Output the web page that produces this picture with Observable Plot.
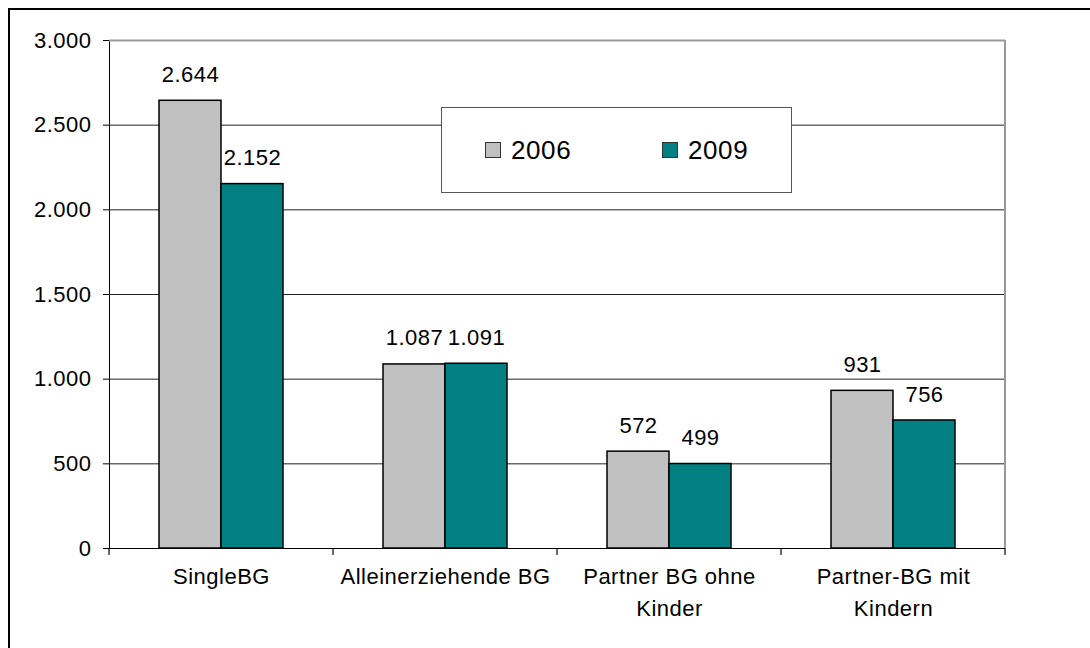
<!DOCTYPE html>
<html>
<head>
<meta charset="utf-8">
<script src="https://cdn.jsdelivr.net/npm/d3@7"></script>
<script src="https://cdn.jsdelivr.net/npm/@observablehq/plot@0.6"></script>
<style>
  html, body { margin: 0; padding: 0; background: #fff; }
  #wrap { position: relative; width: 1090px; height: 648px; overflow: hidden; font-family: "Liberation Sans", Arial, sans-serif; }
  #wrap svg { position: absolute; left: 0; top: 0; }
  #frame { position: absolute; left: 8px; top: 8px; width: 1200px; height: 800px; border-top: 2.5px solid #000; border-left: 2.5px solid #000; pointer-events: none; }
  #legend { position: absolute; left: 441px; top: 107px; width: 351px; height: 86px; box-sizing: border-box; border: 1px solid #555; background: #fff; }
  #legend .item { position: absolute; top: 0; height: 100%; display: flex; align-items: center; font-size: 26px; letter-spacing: 0.6px; color: #000; }
  #legend .sw { width: 14px; height: 14px; border: 1px solid #333; margin-right: 10px; }
</style>
</head>
<body>
<div id="wrap"></div>
<script>
// ---- data ----
const categories = ["SingleBG", "Alleinerziehende BG", "Partner BG ohne\nKinder", "Partner-BG mit\nKindern"];
const years = ["2006", "2009"];
const values2006 = [2644, 1087, 572, 931];
const values2009 = [2152, 1091, 499, 756];
const yTicks = [0, 500, 1000, 1500, 2000, 2500, 3000];
const yearColors = ["#C0C0C0", "#008080"];

// ---- build table ----
const rows = [];
categories.forEach((c, i) => {
  rows.push({cat: c, year: years[0], value: values2006[i]});
  rows.push({cat: c, year: years[1], value: values2009[i]});
});
const catRows = categories.map(c => {
  const parts = c.split("\n");
  return {cat: c, line1: parts[0], line2: parts[1] || ""};
});

const de = d3.formatLocale({decimal: ",", thousands: ".", grouping: [3], currency: ["", " €"]});
const fmt = de.format(",d");

const W = 1090, H = 648;
const chart = Plot.plot({
  width: W,
  height: H,
  marginLeft: 109,
  marginRight: 85,
  marginTop: 40,
  marginBottom: 100,
  style: {fontFamily: "'Liberation Sans', Arial, sans-serif", fontSize: "22px", letterSpacing: "0.5px", color: "#000", background: "transparent", overflow: "visible"},
  fx: {domain: categories, padding: 0, axis: null, label: null},
  x: {domain: years, paddingInner: 0, paddingOuter: 0.778, axis: null, label: null},
  y: {domain: [0, 3000], ticks: yTicks, tickFormat: fmt, tickSize: 6, tickPadding: 12, line: true, label: null},
  color: {domain: years, range: yearColors},
  marks: [
    Plot.ruleY(yTicks.filter(v => v > 0 && v < 3000), {stroke: "#222", strokeWidth: 1}),
    Plot.ruleY([3000], {stroke: "#999", strokeWidth: 2}),
    Plot.barY(rows, {fx: "cat", x: "year", y: "value", fill: "year", stroke: "#000", strokeWidth: 1.5}),
    Plot.ruleY([0], {stroke: "#000", strokeWidth: 1.2}),
    Plot.text(rows, {fx: "cat", x: "year", y: "value", text: d => fmt(d.value), dy: -26, fontSize: 22, fill: "#000"}),
    Plot.text(catRows, {fx: "cat", frameAnchor: "bottom", text: "line1", dy: 35, fontSize: 22, fill: "#000"}),
    Plot.text(catRows, {fx: "cat", frameAnchor: "bottom", text: "line2", dy: 67, fontSize: 22, fill: "#000"})
  ]
});

const wrap = document.getElementById("wrap");
wrap.appendChild(chart);

// plot-area right border and category boundary ticks, positioned from the library's scales
const fxs = chart.scale("fx");
const ys = chart.scale("y");
const fx0 = fxs.range[0];
const step = fxs.step || ((fxs.range[1] - fxs.range[0]) / categories.length);
const yBottom = ys.apply ? ys.apply(0) : ys.range[0];
const yTop = ys.apply ? ys.apply(3000) : ys.range[1];
const svg = d3.select(chart);
const g = svg.append("g");
const bounds = d3.range(categories.length + 1).map(i => fx0 + i * step);
g.selectAll("line.b").data(bounds).join("line")
  .attr("x1", d => d).attr("x2", d => d)
  .attr("y1", yBottom).attr("y2", yBottom + 7)
  .attr("stroke", "#000").attr("stroke-width", 1.2);
g.append("line")
  .attr("x1", bounds[bounds.length - 1]).attr("x2", bounds[bounds.length - 1])
  .attr("y1", yTop).attr("y2", yBottom)
  .attr("stroke", "#999").attr("stroke-width", 2);

// outer chart frame (top and left edges visible)
const frame = document.createElement("div");
frame.id = "frame";
wrap.appendChild(frame);

// legend
const legend = document.createElement("div");
legend.id = "legend";
const itemLefts = [43, 220];
years.forEach((y, i) => {
  const item = document.createElement("div");
  item.className = "item";
  item.style.left = itemLefts[i] + "px";
  const sw = document.createElement("span");
  sw.className = "sw";
  sw.style.background = yearColors[i];
  const t = document.createElement("span");
  t.textContent = y;
  item.appendChild(sw);
  item.appendChild(t);
  legend.appendChild(item);
});
wrap.appendChild(legend);
</script>
</body>
</html>
